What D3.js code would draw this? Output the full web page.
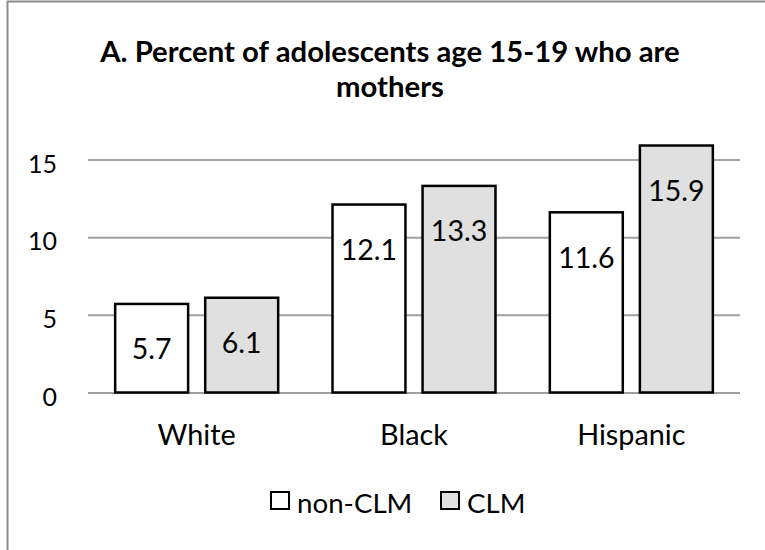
<!DOCTYPE html>
<html>
<head>
<meta charset="utf-8">
<script src="https://cdn.jsdelivr.net/npm/d3@7"></script>
<style>
  body { margin: 0; background: #fff; }
  svg { display: block; font-family: Lato, "Open Sans", sans-serif; }
</style>
</head>
<body>
<div id="wrapper"></div>
<script>
const categories = ["White", "Black", "Hispanic"]
const seriesNames = ["non-CLM", "CLM"]
const nonClmValues = [5.7, 12.1, 11.6]
const clmValues = [6.1, 13.3, 15.9]
const yTicks = [0, 5, 10, 15]
const titleLines = ["A. Percent of adolescents age 15-19 who are", "mothers"]

function drawChart() {
  // 1. Access data
  const data = categories.map((c, i) => ({
    category: c,
    values: [
      { series: seriesNames[0], value: nonClmValues[i] },
      { series: seriesNames[1], value: clmValues[i] },
    ],
  }))

  const colors = { "non-CLM": "#ffffff", "CLM": "#e0e0e0" }

  // 2. Create chart dimensions
  const dimensions = {
    width: 765,
    height: 550,
    margins: { top: 159.5, right: 25, bottom: 157.5, left: 88 },
  }
  dimensions.boundedWidth =
    dimensions.width - dimensions.margins.left - dimensions.margins.right
  dimensions.boundedHeight =
    dimensions.height - dimensions.margins.top - dimensions.margins.bottom

  // 3. Draw canvas
  const wrapper = d3
    .select("#wrapper")
    .append("svg")
    .attr("width", dimensions.width)
    .attr("height", dimensions.height)

  // chart frame (only top and left edges are visible in the crop)
  wrapper.append("path")
    .attr("d", `M7.5,${dimensions.height} V1.5 H${dimensions.width}`)
    .attr("fill", "none")
    .attr("stroke", "#8c8c8c")
    .attr("stroke-width", 2)

  wrapper.append("text")
    .attr("text-anchor", "middle")
    .attr("font-weight", "bold")
    .attr("font-size", 29.3)
    .selectAll("tspan")
    .data(titleLines)
    .join("tspan")
    .attr("x", 390)
    .attr("y", (d, i) => 62 + i * 35)
    .text(d => d)

  const bounds = wrapper
    .append("g")
    .attr("transform", `translate(${dimensions.margins.left},${dimensions.margins.top})`)

  // 4. Create scales
  const x0Scale = d3.scaleBand()
    .domain(categories)
    .range([0, dimensions.boundedWidth])
    .paddingInner(0.25)
    .paddingOuter(0.125)

  const x1Scale = d3.scaleBand()
    .domain(seriesNames)
    .range([0, x0Scale.bandwidth()])
    .paddingInner(0.19)

  const yScale = d3.scaleLinear()
    .domain([0, 15])
    .range([dimensions.boundedHeight, 0])

  // 5. Draw peripherals (gridlines behind bars)
  const yAxisGenerator = d3.axisLeft(yScale)
    .tickValues(yTicks)
    .tickSize(-dimensions.boundedWidth)
    .tickPadding(31)

  const yAxis = bounds.append("g").call(yAxisGenerator)
  yAxis.select(".domain").remove()
  yAxis.selectAll(".tick line")
    .attr("stroke", "#a0a0a0")
    .attr("stroke-width", 2)
  yAxis.selectAll(".tick text")
    .attr("font-family", "Lato, sans-serif")
    .attr("font-size", 25)
    .attr("fill", "#000")
    .attr("dy", "0.5em")

  const xAxisGenerator = d3.axisBottom(x0Scale).tickSize(0).tickPadding(32)
  const xAxis = bounds.append("g")
    .attr("transform", `translate(0,${dimensions.boundedHeight})`)
    .call(xAxisGenerator)
  xAxis.select(".domain").remove()
  xAxis.selectAll(".tick text")
    .attr("font-family", "Lato, sans-serif")
    .attr("font-size", 28.8)
    .attr("fill", "#000")

  // 6. Draw data
  const groups = bounds.selectAll(".group")
    .data(data)
    .join("g")
    .attr("class", "group")
    .attr("transform", d => `translate(${x0Scale(d.category)},0)`)

  groups.selectAll("rect")
    .data(d => d.values)
    .join("rect")
    .attr("x", d => x1Scale(d.series))
    .attr("y", d => yScale(d.value))
    .attr("width", x1Scale.bandwidth())
    .attr("height", d => yScale(0) - yScale(d.value))
    .attr("fill", d => colors[d.series])
    .attr("stroke", "#000")
    .attr("stroke-width", 2.5)

  groups.selectAll(".value-label")
    .data(d => d.values)
    .join("text")
    .attr("class", "value-label")
    .attr("x", d => x1Scale(d.series) + x1Scale.bandwidth() / 2)
    .attr("y", d => yScale(d.value) + 45)
    .attr("dy", "0.36em")
    .attr("text-anchor", "middle")
    .attr("font-size", 28.5)
    .text(d => d.value.toFixed(1))

  // 7. Legend
  const legendX = d3.scaleOrdinal().domain(seriesNames).range([271, 441])
  const legend = wrapper.append("g")
    .selectAll("g")
    .data(seriesNames)
    .join("g")
    .attr("transform", d => `translate(${legendX(d)},492)`)

  legend.append("rect")
    .attr("width", 18)
    .attr("height", 17)
    .attr("fill", d => colors[d])
    .attr("stroke", "#000")
    .attr("stroke-width", 2)

  legend.append("text")
    .attr("x", 26)
    .attr("y", 21)
    .attr("font-size", 27.7)
    .text(d => d)
}

drawChart()
</script>
</body>
</html>
